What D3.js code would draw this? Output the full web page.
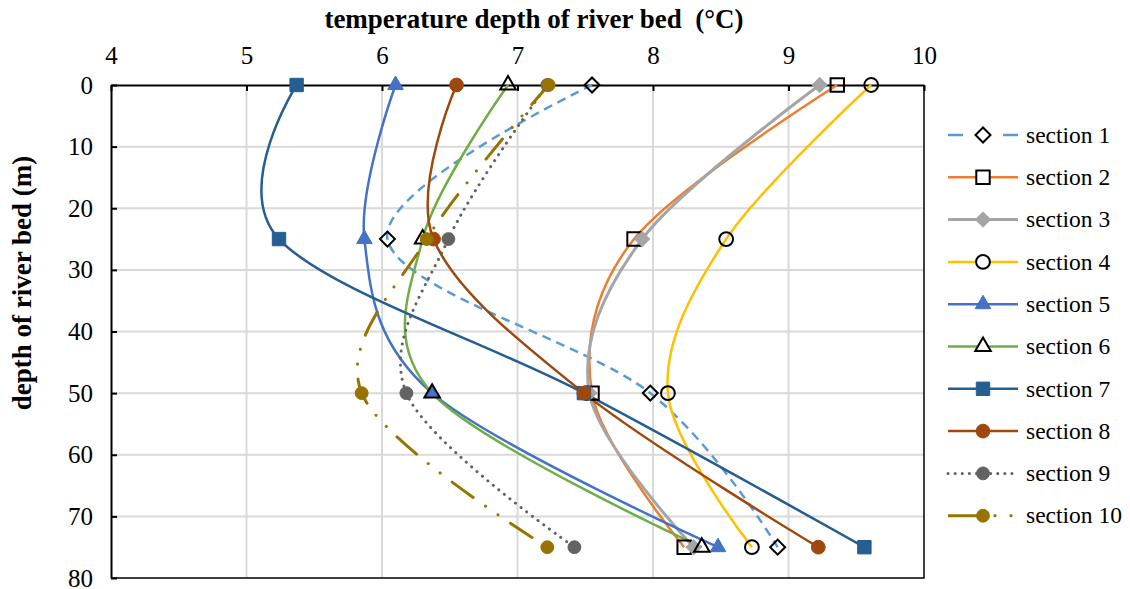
<!DOCTYPE html>
<html>
<head>
<meta charset="utf-8">
<script src="https://cdn.jsdelivr.net/npm/d3@7"></script>
<style>
  body { margin: 0; background: #fff; }
  svg { font-family: "Liberation Serif", "Times New Roman", serif; }
</style>
</head>
<body>
<svg id="chart" width="1130" height="589"></svg>
<script>
// depth of river bed (m) at which temperatures were measured
var depths = [0, 25, 50, 75];

// temperature (°C) per section, one value per depth
var section1 = [7.55, 6.04, 7.98, 8.92];
var section2 = [9.36, 7.86, 7.55, 8.23];
var section3 = [9.23, 7.92, 7.53, 8.30];
var section4 = [9.61, 8.54, 8.11, 8.73];
var section5 = [6.10, 5.87, 6.37, 8.48];
var section6 = [6.93, 6.30, 6.37, 8.36];
var section7 = [5.37, 5.24, 7.49, 9.56];
var section8 = [6.55, 6.38, 7.49, 9.22];
var section9 = [7.22, 6.49, 6.18, 7.42];
var section10 = [7.23, 6.33, 5.85, 7.22];

var names = ["section 1", "section 2", "section 3", "section 4", "section 5",
             "section 6", "section 7", "section 8", "section 9", "section 10"];
var xTicks = [4, 5, 6, 7, 8, 9, 10];
var yTicks = [0, 10, 20, 30, 40, 50, 60, 70, 80];

var values = [section1, section2, section3, section4, section5,
              section6, section7, section8, section9, section10];

// look of each series (Excel 2013 palette)
var styles = [
  {color: "#5B9BD5", width: 2.5, dash: "9,6", cap: "butt", marker: "diamond", fill: "none"},
  {color: "#ED7D31", width: 2.5, dash: null, cap: "butt", marker: "square", fill: "none"},
  {color: "#A5A5A5", width: 3, dash: null, cap: "butt", marker: "diamond", fill: "#A5A5A5"},
  {color: "#FFC000", width: 2.5, dash: null, cap: "butt", marker: "circle", fill: "none"},
  {color: "#4472C4", width: 2.5, dash: null, cap: "butt", marker: "triangle", fill: "#4472C4"},
  {color: "#70AD47", width: 2.5, dash: null, cap: "butt", marker: "triangle", fill: "none"},
  {color: "#255E91", width: 2.5, dash: null, cap: "butt", marker: "square", fill: "#255E91"},
  {color: "#9E480E", width: 2.5, dash: null, cap: "butt", marker: "circle", fill: "#9E480E"},
  {color: "#636363", width: 3, dash: "0.1,7", cap: "round", marker: "dot", fill: "#636363"},
  {color: "#997300", width: 3, dash: "26,15,0.1,15,0.1,15", cap: "round", marker: "dot", fill: "#997300"}
];

var svg = d3.select("#chart");

var x = d3.scaleLinear().domain([4, 10]).range([111, 924]);
var y = d3.scaleLinear().domain([0, 80]).range([85, 578]);

// gridlines
svg.append("g")
  .selectAll("line")
  .data(xTicks.slice(1, -1))
  .enter().append("line")
    .attr("x1", function(d) { return x(d); })
    .attr("x2", function(d) { return x(d); })
    .attr("y1", y(0)).attr("y2", y(80))
    .attr("stroke", "#D9D9D9").attr("stroke-width", 2);

svg.append("g")
  .selectAll("line")
  .data(yTicks.slice(1, -1))
  .enter().append("line")
    .attr("x1", x(4)).attr("x2", x(10))
    .attr("y1", function(d) { return y(d); })
    .attr("y2", function(d) { return y(d); })
    .attr("stroke", "#D9D9D9").attr("stroke-width", 2);

// plot frame (right and bottom)
svg.append("path")
  .attr("d", "M" + x(10) + "," + y(0) + "V" + y(80) + "H" + x(4))
  .attr("fill", "none")
  .attr("stroke", "#000")
  .attr("stroke-width", 1.5);

// axes
var xAxis = svg.append("g")
  .attr("transform", "translate(0," + y(0) + ")")
  .call(d3.axisTop(x).tickValues(xTicks).tickFormat(d3.format("d"))
    .tickSize(-6).tickPadding(21).tickSizeOuter(0));

var yAxis = svg.append("g")
  .attr("transform", "translate(" + x(4) + ",0)")
  .call(d3.axisLeft(y).tickValues(yTicks).tickFormat(d3.format("d"))
    .tickSize(-6).tickPadding(18).tickSizeOuter(0));

[xAxis, yAxis].forEach(function(g) {
  g.attr("font-family", "'Liberation Serif', 'Times New Roman', serif");
  g.select(".domain").attr("stroke", "#000").attr("stroke-width", 2);
  g.selectAll(".tick line").attr("stroke", "#000").attr("stroke-width", 2);
  g.selectAll(".tick text")
    .attr("fill", "#000")
    .style("font-family", "'Liberation Serif', serif")
    .style("font-size", "25px");
});

// axis titles
svg.append("text")
  .attr("x", 534).attr("y", 28)
  .attr("text-anchor", "middle")
  .attr("xml:space", "preserve")
  .style("white-space", "pre")
  .style("font-size", "27px").style("font-weight", "bold")
  .text("temperature depth of river bed  (°C)");

svg.append("text")
  .attr("transform", "translate(31,283) rotate(-90)")
  .attr("text-anchor", "middle")
  .style("font-size", "27px").style("font-weight", "bold")
  .text("depth of river bed (m)");

function markerPath(type) {
  if (type == "square") return d3.symbol().type(d3.symbolSquare).size(180)();
  if (type == "diamond") return d3.symbol().type(d3.symbolSquare).size(112)();
  if (type == "triangle") return d3.symbol().type(d3.symbolTriangle).size(105)();
  if (type == "circle") return d3.symbol().type(d3.symbolCircle).size(150)();
  return d3.symbol().type(d3.symbolCircle).size(130)();
}

function markerTransform(type, px, py) {
  var t = "translate(" + px + "," + py + ")";
  if (type == "diamond") t += " rotate(45)";
  return t;
}

var line = d3.line()
  .x(function(d) { return x(d.t); })
  .y(function(d) { return y(d.depth); })
  .curve(d3.curveCardinal.tension(0));

var plot = svg.append("g");

values.forEach(function(vals, i) {
  var s = styles[i];
  var pts = vals.map(function(v, j) { return {t: v, depth: depths[j]}; });

  plot.append("path")
    .datum(pts)
    .attr("d", line)
    .attr("fill", "none")
    .attr("stroke", s.color)
    .attr("stroke-width", s.width)
    .attr("stroke-linecap", s.cap)
    .attr("stroke-dasharray", s.dash);
});

values.forEach(function(vals, i) {
  var s = styles[i];
  var open = s.fill == "none";
  plot.append("g")
    .selectAll("path")
    .data(vals)
    .enter().append("path")
      .attr("d", markerPath(s.marker))
      .attr("transform", function(v, j) { return markerTransform(s.marker, x(v), y(depths[j])); })
      .attr("fill", s.fill)
      .attr("stroke", open ? "#000" : s.fill)
      .attr("stroke-width", open ? 2 : 1);
});

// legend
var legend = svg.append("g");
names.forEach(function(name, i) {
  var s = styles[i];
  var ly = 135 + i * 42.3;
  var open = s.fill == "none";
  var row = legend.append("g");

  if (i == 9) {
    row.append("line")
      .attr("x1", 948).attr("x2", 983).attr("y1", ly).attr("y2", ly)
      .attr("stroke", s.color).attr("stroke-width", s.width);
    [995, 1011].forEach(function(cx) {
      row.append("circle").attr("cx", cx).attr("cy", ly).attr("r", 1.6).attr("fill", s.color);
    });
  } else {
    row.append("line")
      .attr("x1", 948).attr("x2", 1018).attr("y1", ly).attr("y2", ly)
      .attr("stroke", s.color)
      .attr("stroke-width", s.width)
      .attr("stroke-linecap", s.cap)
      .attr("stroke-dasharray", i == 0 ? "15,40,15" : (i == 8 ? "0.1,7" : null));
  }

  row.append("path")
    .attr("d", markerPath(s.marker))
    .attr("transform", markerTransform(s.marker, 983, ly))
    .attr("fill", open ? "#fff" : s.fill)
    .attr("stroke", open ? "#000" : s.fill)
    .attr("stroke-width", open ? 2 : 1);

  row.append("text")
    .attr("x", 1026).attr("y", ly)
    .attr("dy", "0.33em")
    .style("font-size", "23.5px")
    .text(name);
});
</script>
</body>
</html>
